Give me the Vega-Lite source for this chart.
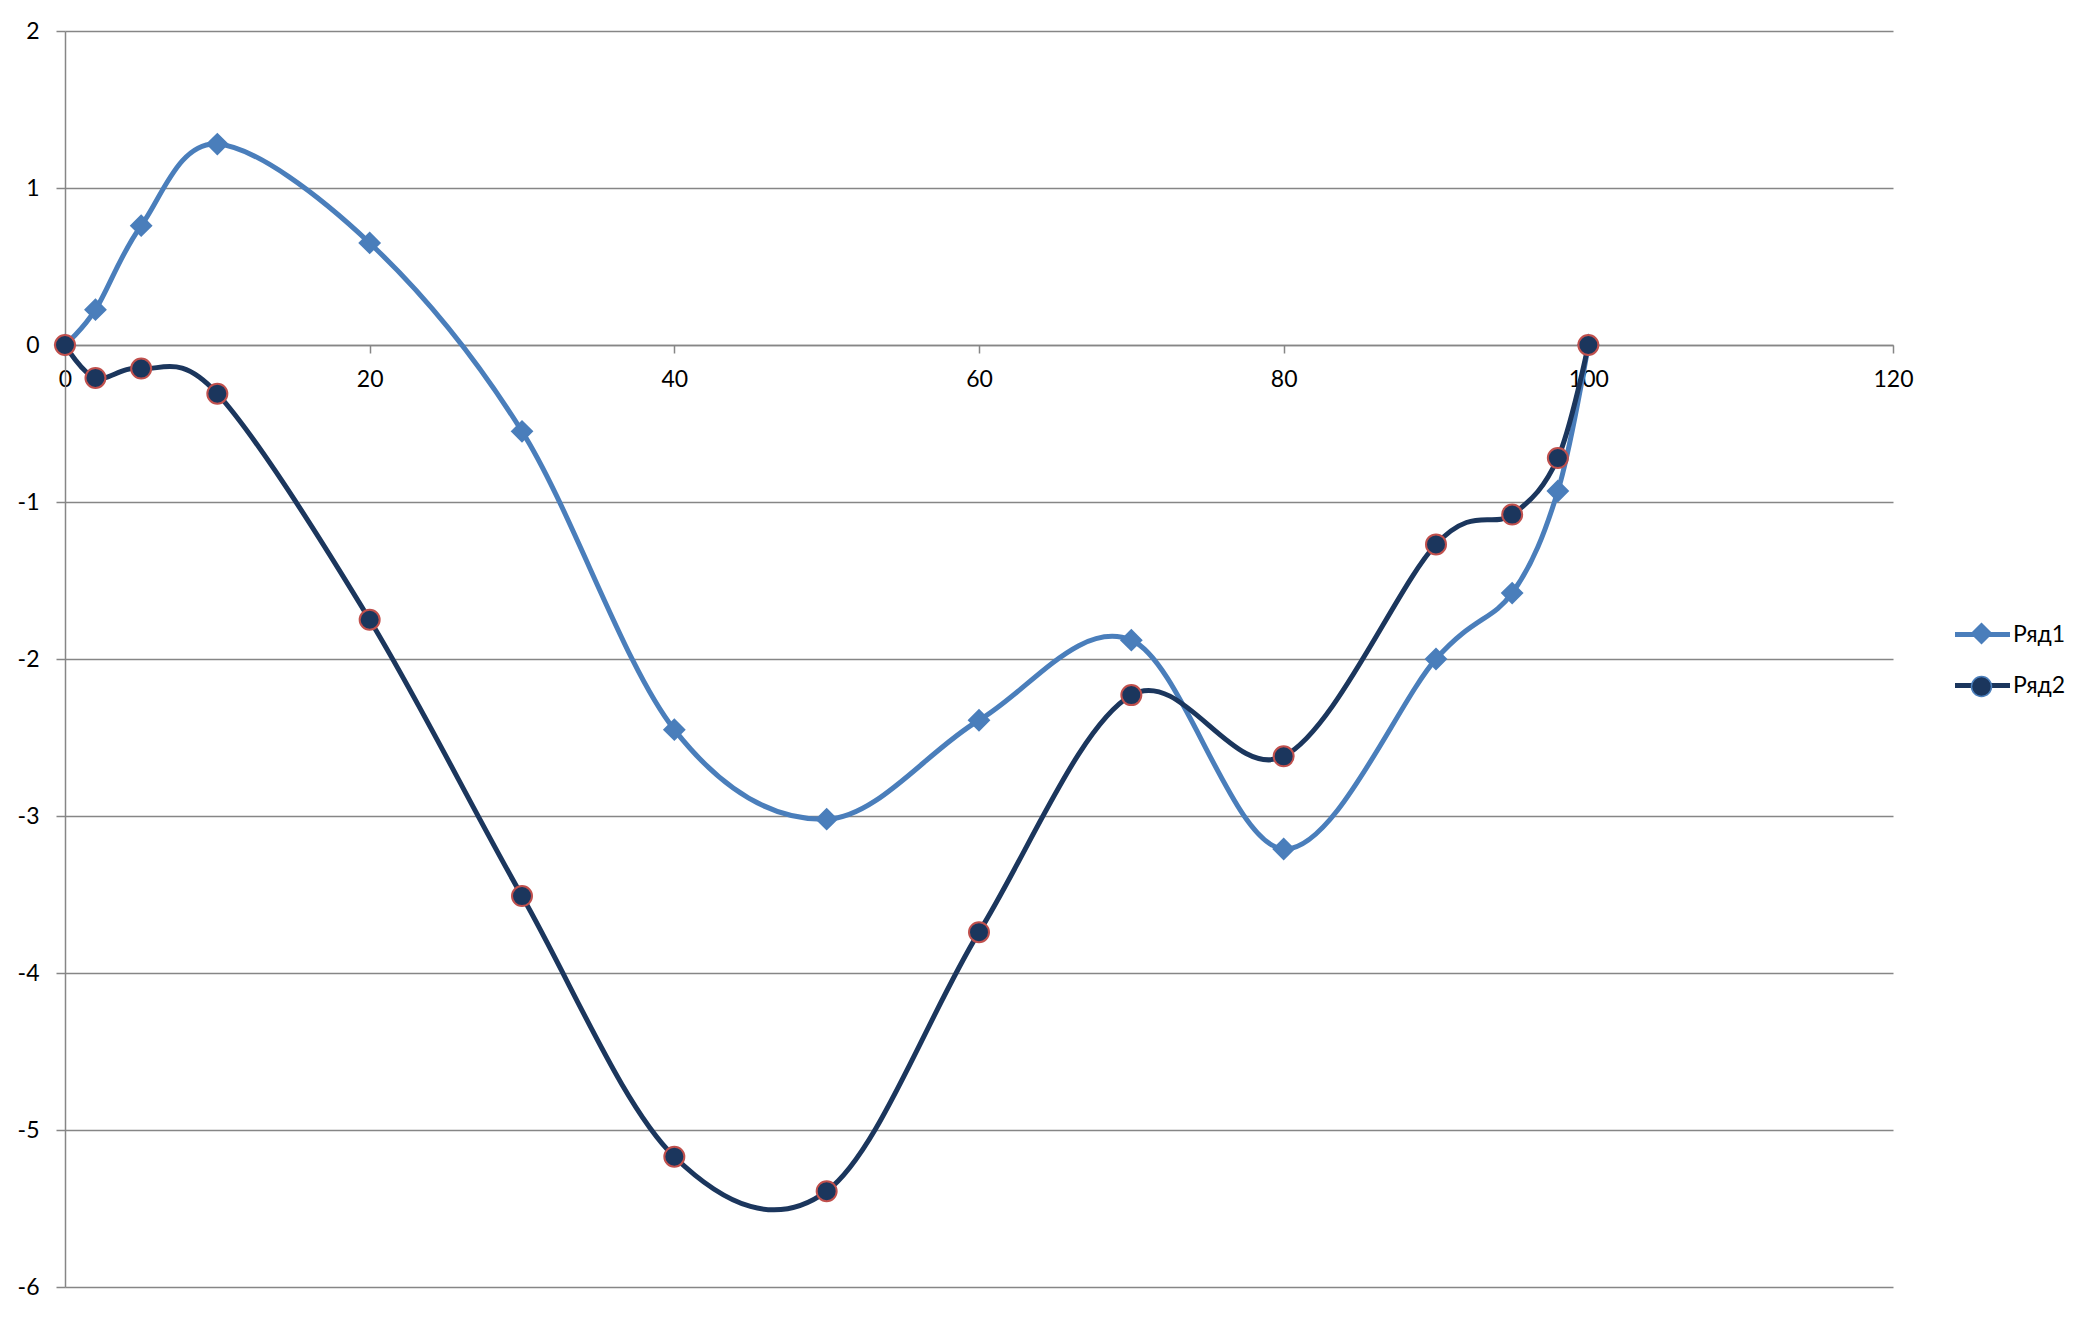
{
  "$schema": "https://vega.github.io/schema/vega-lite/v6.json",
  "width": 1828,
  "height": 1256,
  "autosize": {"type": "none"},
  "padding": {"left": 65, "top": 31, "right": 202, "bottom": 32},
  "background": "white",
  "config": {
    "view": {"stroke": null},
    "font": "Lato",
    "axis": {"labelFont": "Lato", "labelFontSize": 23, "labelColor": "#000000", "domainColor": "#868686", "tickColor": "#868686", "domainWidth": 1.5, "tickWidth": 1.5, "title": null}
  },
  "data": {
    "values": [
      {"x": 0, "y": 0, "series": "Ряд1"},
      {"x": 2, "y": 0.225, "series": "Ряд1"},
      {"x": 5, "y": 0.76, "series": "Ряд1"},
      {"x": 10, "y": 1.28, "series": "Ряд1"},
      {"x": 20, "y": 0.65, "series": "Ряд1"},
      {"x": 30, "y": -0.55, "series": "Ряд1"},
      {"x": 40, "y": -2.45, "series": "Ряд1"},
      {"x": 50, "y": -3.02, "series": "Ряд1"},
      {"x": 60, "y": -2.39, "series": "Ряд1"},
      {"x": 70, "y": -1.88, "series": "Ряд1"},
      {"x": 80, "y": -3.21, "series": "Ряд1"},
      {"x": 90, "y": -2.0, "series": "Ряд1"},
      {"x": 95, "y": -1.58, "series": "Ряд1"},
      {"x": 98, "y": -0.93, "series": "Ряд1"},
      {"x": 100, "y": 0, "series": "Ряд1"},
      {"x": 0, "y": 0, "series": "Ряд2"},
      {"x": 2, "y": -0.21, "series": "Ряд2"},
      {"x": 5, "y": -0.15, "series": "Ряд2"},
      {"x": 10, "y": -0.31, "series": "Ряд2"},
      {"x": 20, "y": -1.75, "series": "Ряд2"},
      {"x": 30, "y": -3.51, "series": "Ряд2"},
      {"x": 40, "y": -5.17, "series": "Ряд2"},
      {"x": 50, "y": -5.39, "series": "Ряд2"},
      {"x": 60, "y": -3.74, "series": "Ряд2"},
      {"x": 70, "y": -2.23, "series": "Ряд2"},
      {"x": 80, "y": -2.62, "series": "Ряд2"},
      {"x": 90, "y": -1.27, "series": "Ряд2"},
      {"x": 95, "y": -1.08, "series": "Ряд2"},
      {"x": 98, "y": -0.72, "series": "Ряд2"},
      {"x": 100, "y": 0, "series": "Ряд2"}
    ]
  },
  "encoding": {
    "x": {
      "field": "x", "type": "quantitative",
      "scale": {"domain": [0, 120], "nice": false, "zero": false},
      "axis": {"values": [0, 20, 40, 60, 80, 100, 120], "grid": false, "offset": -942, "tickSize": 8, "labelPadding": 15, "labelFlush": false, "labelOverlap": false, "labelExpr": "'' + datum.value"}
    },
    "y": {
      "field": "y", "type": "quantitative",
      "scale": {"domain": [-6, 2], "nice": false},
      "axis": {"values": [-6, -5, -4, -3, -2, -1, 0, 1, 2], "grid": true, "gridColor": "#868686", "gridWidth": 1.5, "gridOpacity": 1, "tickSize": 9, "labelPadding": 17, "labelFlush": false, "labelOverlap": false, "labelExpr": "'' + datum.value"}
    }
  },
  "layer": [
    {
      "mark": {"type": "line", "interpolate": "cardinal", "tension": 0, "strokeWidth": 5},
      "encoding": {
        "stroke": {
          "field": "series", "type": "nominal",
          "scale": {"domain": ["Ряд1", "Ряд2"], "range": ["#4A7EBB", "#1B365D"]},
          "legend": {
            "orient": "none", "legendX": 1905, "legendY": 591, "title": null,
            "symbolType": "M-2.75,0H2.75", "symbolSize": 400, "symbolStrokeWidth": 5,
            "labelFont": "Lato", "labelFontSize": 23, "labelColor": "#000000", "labelOffset": 18,
            "rowPadding": 26, "padding": 0,
            "encoding": {"symbols": {"update": {"strokeCap": {"value": "round"}}}}
          }
        }
      }
    },
    {
      "mark": {"type": "point", "filled": true, "size": 400, "opacity": 1, "strokeWidth": 2},
      "encoding": {
        "shape": {
          "field": "series", "type": "nominal",
          "scale": {"range": ["diamond", "circle"]},
          "legend": {
            "orient": "none", "legendX": 1905, "legendY": 591, "title": null,
            "symbolSize": 400, "labelFont": "Lato", "labelFontSize": 23, "labelOpacity": 0, "labelOffset": 18,
            "rowPadding": 26, "padding": 0,
            "encoding": {"symbols": {"update": {"stroke": {"signal": "datum.value === 'Ряд2' ? '#C0504D' : '#4A7EBB'"}, "strokeWidth": {"value": 2}, "opacity": {"value": 1}}}}
          }
        },
        "fill": {
          "field": "series", "type": "nominal",
          "scale": {"range": ["#4A7EBB", "#1B365D"]},
          "legend": {
            "orient": "none", "legendX": 1905, "legendY": 591, "title": null,
            "symbolSize": 400, "labelFont": "Lato", "labelFontSize": 23, "labelOpacity": 0, "labelOffset": 18,
            "rowPadding": 26, "padding": 0,
            "encoding": {"symbols": {"update": {"stroke": {"signal": "datum.value === 'Ряд2' ? '#C0504D' : '#4A7EBB'"}, "strokeWidth": {"value": 2}, "opacity": {"value": 1}}}}
          }
        },
        "stroke": {"condition": {"test": "datum.series === 'Ряд2'", "value": "#C0504D"}, "value": "#4A7EBB"}
      }
    }
  ]
}
